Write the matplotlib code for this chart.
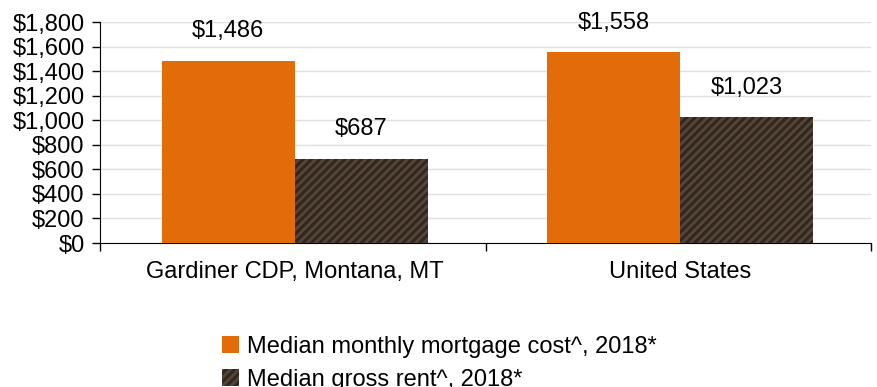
import numpy as np
import matplotlib.pyplot as plt
from matplotlib.patches import Patch

plt.rcParams['font.family'] = ['Liberation Sans', 'DejaVu Sans']
plt.rcParams['hatch.linewidth'] = 2.0

# Данные
places = ['Gardiner CDP, Montana, MT', 'United States']
mortgage = [1486, 1558]
rent = [687, 1023]
series_names = ['Median monthly mortgage cost^, 2018*', 'Median gross rent^, 2018*']

orange = '#e36c0a'
dark = '#3a2614'
stripe = '#4d4843'
fs = 17

fig = plt.figure(figsize=(8.77, 3.87), dpi=100)
ax = fig.add_axes([100 / 877, 1 - 243 / 387, 771 / 877, 221 / 387])

x = np.arange(len(places)) + 0.005
w = 0.345
b1 = ax.bar(x - w / 2, mortgage, w, color=orange, zorder=3)
b2 = ax.bar(x + w / 2, rent, w, color=dark, hatch='////', edgecolor=stripe,
            linewidth=0, zorder=3)

for bars, vals in [(b1, mortgage), (b2, rent)]:
    for bar, v in zip(bars, vals):
        ax.annotate(f'${v:,}', (bar.get_x() + bar.get_width() / 2, v),
                    xytext=(0, 21), textcoords='offset points',
                    ha='center', va='center', fontsize=fs)

ax.set_xlim(-0.5, len(places) - 0.5)
ax.set_ylim(0, 1800)
ax.set_yticks(np.arange(0, 1801, 200))
ax.set_yticklabels([f'${v:,}' for v in range(0, 1801, 200)], fontsize=fs)
ax.yaxis.grid(True, color='#e0e0e0', linewidth=1, zorder=0)

# Подписи категорий и засечки между группами
ax.set_xticks(np.arange(-0.5, len(places)), minor=False)
ax.set_xticklabels([])
ax.set_xticks(x, minor=True)
ax.set_xticklabels(places, minor=True, fontsize=fs)
ax.tick_params(axis='x', which='minor', length=0, pad=13)
ax.tick_params(axis='x', which='major', length=6, direction='out', width=1)
ax.tick_params(axis='y', length=6, direction='out', width=1, pad=5)

for s in ['top', 'right']:
    ax.spines[s].set_visible(False)
ax.spines['left'].set_color('#000000')
ax.spines['bottom'].set_color('#000000')

handles = [Patch(facecolor=orange),
           Patch(facecolor=dark, hatch='////', edgecolor=stripe, linewidth=0)]
fig.legend(handles, series_names, loc='upper left', bbox_to_anchor=(222 / 877, 1 - 336 / 387),
           frameon=False, fontsize=fs, handlelength=0.7, handleheight=0.7,
           handletextpad=0.35, labelspacing=0.45, borderaxespad=0, borderpad=0)

fig.savefig('out.png', dpi=100)
